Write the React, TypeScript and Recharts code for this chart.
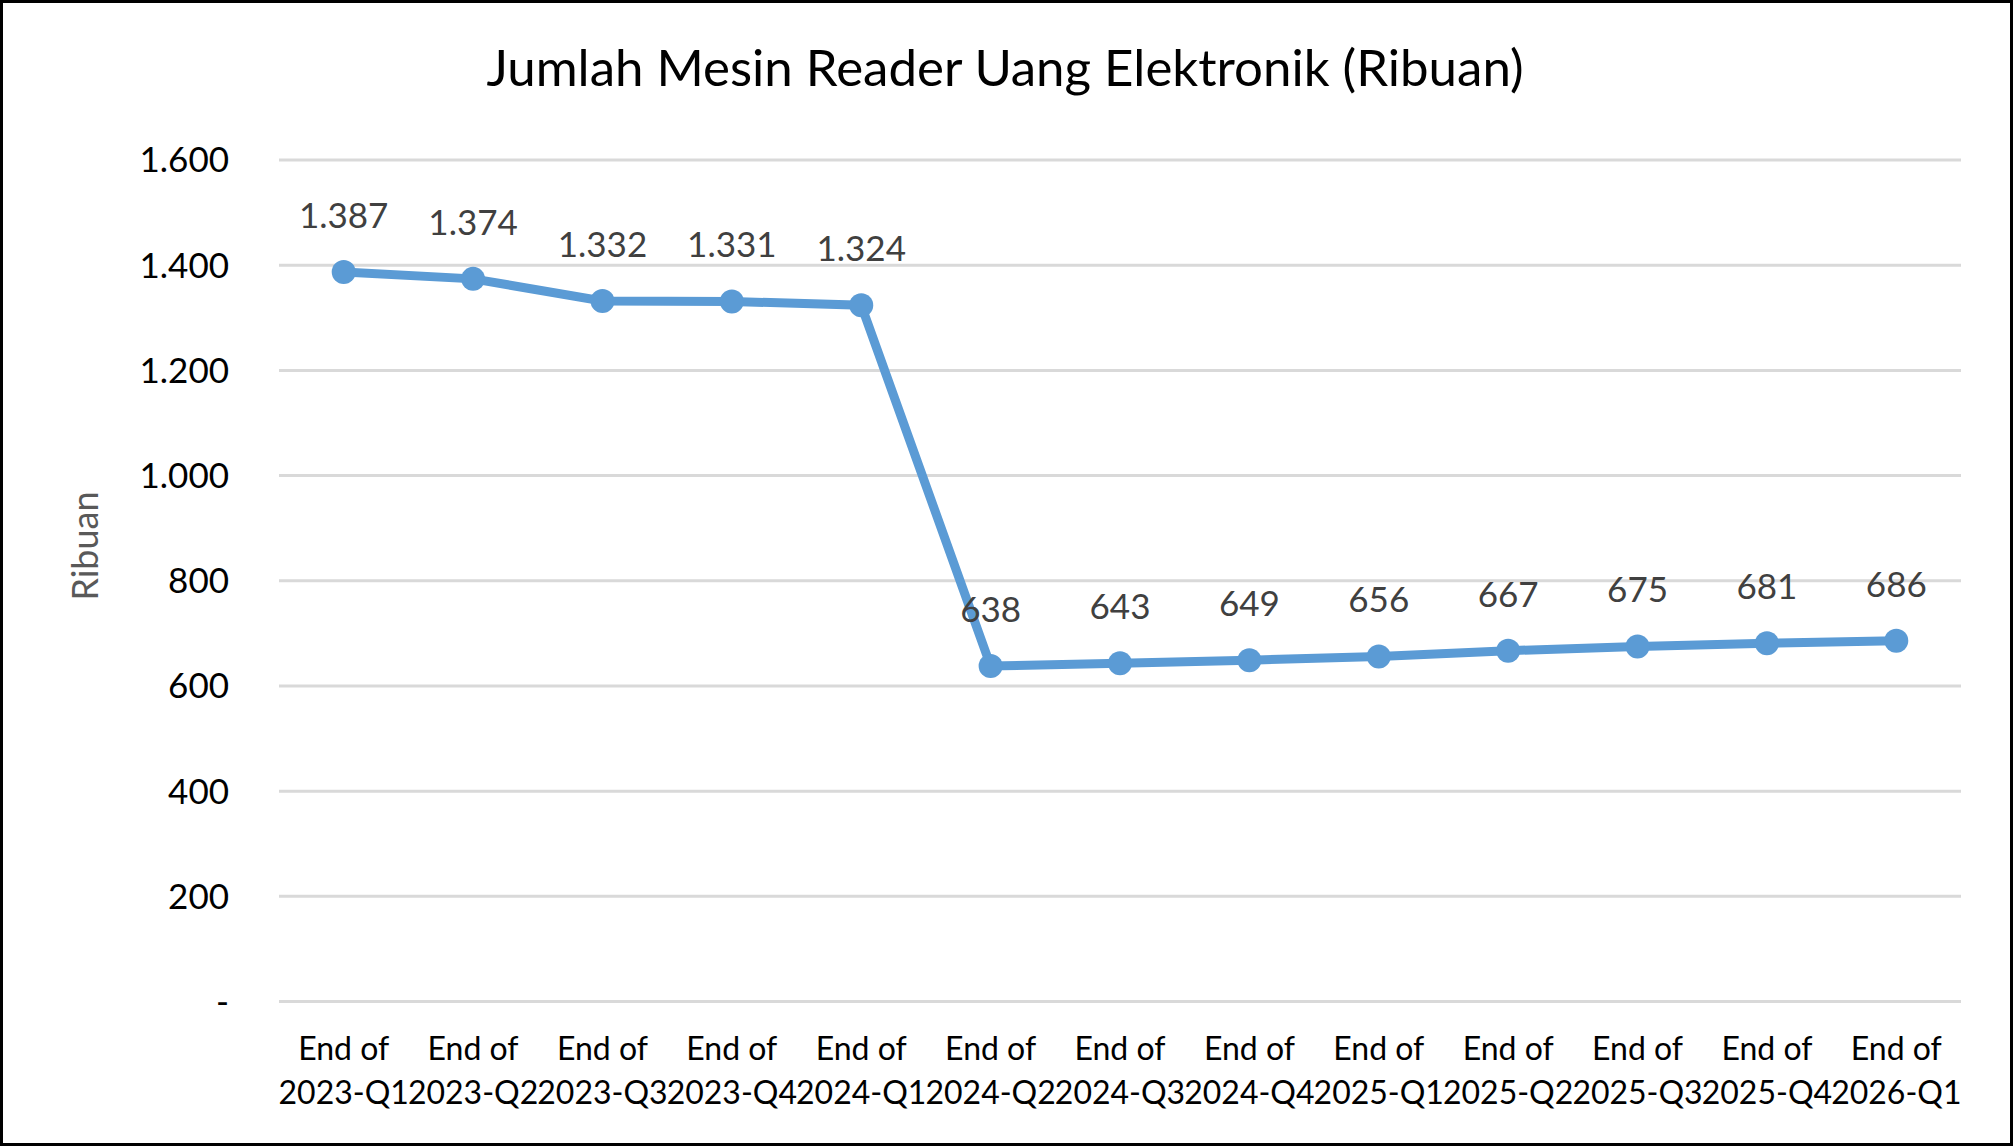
import React from 'react';
import { LineChart, Line, XAxis, YAxis, CartesianGrid, LabelList, Label } from 'recharts';

// quarter-end periods shown on the x axis
const quarters = [
  '2023-Q1', '2023-Q2', '2023-Q3', '2023-Q4',
  '2024-Q1', '2024-Q2', '2024-Q3', '2024-Q4',
  '2025-Q1', '2025-Q2', '2025-Q3', '2025-Q4',
  '2026-Q1',
];

// reader machines, thousands
const readers = [1387, 1374, 1332, 1331, 1324, 638, 643, 649, 656, 667, 675, 681, 686];

const yTicks = [0, 200, 400, 600, 800, 1000, 1200, 1400, 1600];

const data = quarters.map((q, i) => ({ period: q, value: readers[i] }));

const FONT = 'Lato, "Open Sans", sans-serif';
const BLUE = '#5B9BD5';

// Indonesian style: 1.387, zero shown as a dash
const fmt = (v: number) =>
  v === 0 ? '-' : String(v).replace(/\B(?=(\d{3})+(?!\d))/g, '.');

const XTick = (props: any) => {
  const { x, y, payload } = props;
  return (
    <g>
      <text x={x} y={y + 58} textAnchor="middle" fontSize={32} fontFamily={FONT} fill="#000">
        End of
      </text>
      <text x={x} y={y + 102} textAnchor="middle" fontSize={32} fontFamily={FONT} fill="#000">
        {payload.value}
      </text>
    </g>
  );
};

const App: React.FC = () => {
  return (
    <div style={{ position: 'absolute', left: 0, top: 0, width: 2013, height: 1146, background: '#fff' }}>
      <LineChart
        width={2013}
        height={1146}
        data={data}
        margin={{ top: 160, right: 52, bottom: 0, left: 0 }}
      >
        <CartesianGrid vertical={false} stroke="#d9d9d9" strokeWidth={3} />
        <XAxis
          dataKey="period"
          axisLine={false}
          tickLine={false}
          tickSize={0}
          tickMargin={0}
          height={144.5}
          interval={0}
          padding={{ left: 64.7, right: 64.7 }}
          tick={<XTick />}
        />
        <YAxis
          domain={[0, 1600]}
          ticks={yTicks}
          width={279}
          axisLine={false}
          tickLine={false}
          tickSize={0}
          tickMargin={50}
          tickFormatter={fmt}
          tick={{ fill: '#000', fontSize: 35, fontFamily: FONT }}
        >
          <Label
            content={() => (
              <text
                x={98}
                y={546}
                transform="rotate(-90 98 546)"
                textAnchor="middle"
                fontSize={36}
                fontFamily={FONT}
                fill="#595959"
              >
                Ribuan
              </text>
            )}
          />
        </YAxis>
        <Line
          type="linear"
          dataKey="value"
          stroke={BLUE}
          strokeWidth={9}
          dot={{ r: 12, fill: BLUE, stroke: BLUE, strokeWidth: 0 }}
          activeDot={false}
          isAnimationActive={false}
        >
          <LabelList
            dataKey="value"
            position="top"
            offset={44}
            formatter={(v: any) => fmt(Number(v))}
            fill="#404040"
            fontSize={35}
            fontFamily={FONT}
          />
        </Line>
      </LineChart>
      <svg
        width={2013}
        height={1146}
        style={{ position: 'absolute', left: 0, top: 0, pointerEvents: 'none' }}
      >
        <text x={1005} y={86} textAnchor="middle" fontSize={51} fontFamily={FONT} fill="#000">
          Jumlah Mesin Reader Uang Elektronik (Ribuan)
        </text>
        <rect x={1.5} y={1.5} width={2010} height={1143} fill="none" stroke="#000" strokeWidth={3} />
      </svg>
    </div>
  );
};

export default App;
